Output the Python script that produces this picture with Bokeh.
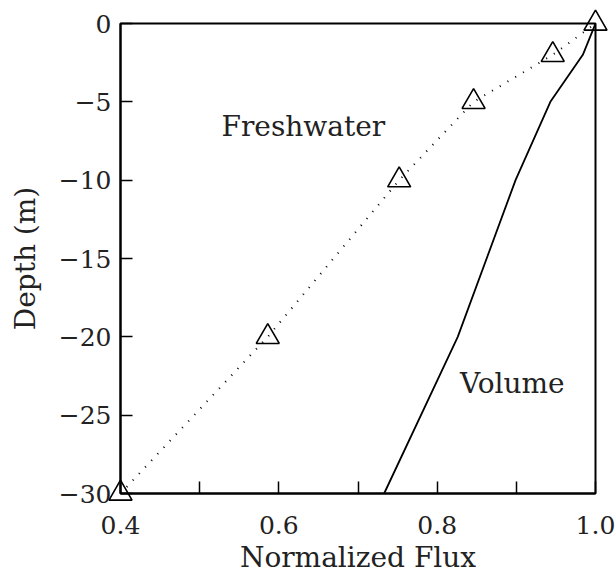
from bokeh.plotting import figure
from bokeh.models import FixedTicker, Range1d
from bokeh.core.properties import value
from bokeh.embed import file_html
from bokeh.resources import INLINE

# Freshwater flux profile (markers joined by a dotted line)
fresh_flux = [0.40, 0.586, 0.752, 0.846, 0.946, 1.0]
fresh_depth = [-30, -20, -10, -5, -2, 0]

# Volume flux profile (solid line)
vol_flux = [0.733, 0.826, 0.899, 0.943, 0.984, 1.0]
vol_depth = [-30, -20, -10, -5, -2, 0]

x_ticks = [0.4, 0.5, 0.6, 0.7, 0.8, 0.9, 1.0]
x_labels = ["0.4", "", "0.6", "", "0.8", "", "1.0"]
y_ticks = [0, -5, -10, -15, -20, -25, -30]
y_labels = ["0", "\u22125", "\u221210", "\u221215", "\u221220", "\u221225", "\u221230"]

FONT = "DejaVu Serif"
TICK_FS = "25px"
LABEL_FS = "28px"

p = figure(width=616, height=576, output_backend="svg", toolbar_location=None,
           x_range=Range1d(0.4, 1.0), y_range=Range1d(-30, 0),
           min_border_left=120, min_border_right=21, min_border_top=23,
           min_border_bottom=83)
p.grid.visible = False
p.outline_line_color = "black"
p.outline_line_width = 2
p.background_fill_color = "white"
p.border_fill_color = "white"

p.xaxis.ticker = FixedTicker(ticks=x_ticks)
p.xaxis.major_label_overrides = {t: l for t, l in zip(x_ticks, x_labels)}
p.yaxis.ticker = FixedTicker(ticks=y_ticks)
p.yaxis.major_label_overrides = {t: l for t, l in zip(y_ticks, y_labels)}

for ax in (p.xaxis, p.yaxis):
    ax.major_tick_in = 12
    ax.major_tick_out = 0
    ax.minor_tick_in = 0
    ax.minor_tick_out = 0
    ax.axis_line_width = 2
    ax.major_tick_line_width = 1.5
    ax.major_label_text_font = FONT
    ax.major_label_text_font_size = TICK_FS
    ax.major_label_text_color = "#222222"
    ax.axis_label_text_font = FONT
    ax.axis_label_text_font_size = LABEL_FS
    ax.axis_label_text_font_style = "normal"
    ax.axis_label_text_color = "#222222"

p.xaxis.axis_label = "Normalized Flux"
p.xaxis.major_label_standoff = 22
p.xaxis.axis_label_standoff = 4
p.yaxis.axis_label = "Depth (m)"
p.yaxis.major_label_standoff = 9
p.yaxis.axis_label_standoff = 14

p.line(vol_flux, vol_depth, line_color="black", line_width=1.8)
p.line(fresh_flux, fresh_depth, line_color="black", line_width=2,
       line_dash="1 8")
p.scatter(fresh_flux, fresh_depth, marker="triangle", size=23,
          fill_color=None, line_color="black", line_width=1.6,
          level="overlay")

p.text(x=[0.631], y=[-6.6], text=["Freshwater"], text_font=value(FONT),
       text_font_size=LABEL_FS, text_align="center", text_baseline="middle",
       text_color="#222222")
p.text(x=[0.895], y=[-23.0], text=["Volume"], text_font=value(FONT),
       text_font_size=LABEL_FS, text_align="center", text_baseline="middle",
       text_color="#222222")

open("out.html", "w").write(file_html(p, INLINE))
